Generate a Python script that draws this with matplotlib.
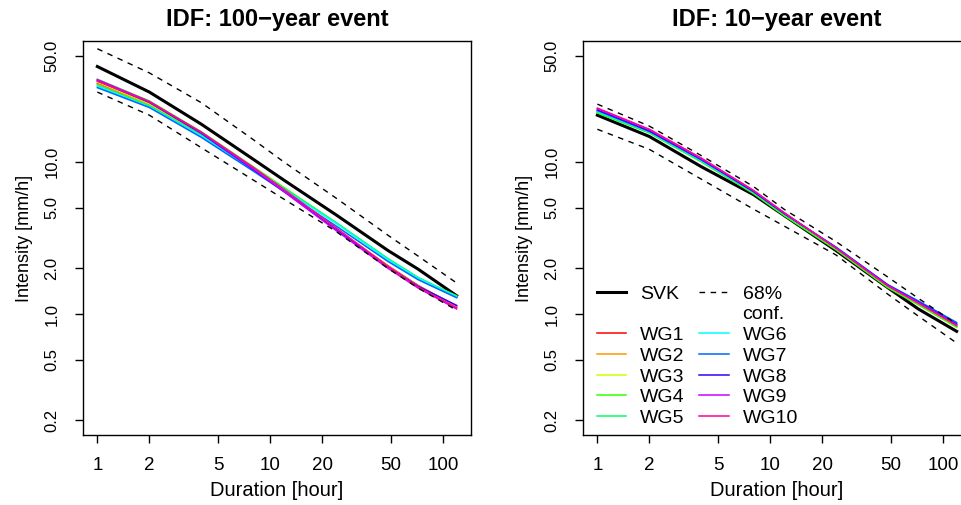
import matplotlib
matplotlib.use("Agg")
import matplotlib.pyplot as plt
from matplotlib.lines import Line2D

plt.rcParams['font.family'] = ['Liberation Sans', 'DejaVu Sans']

durations = [1, 2, 4, 8, 12, 24, 48, 72, 120]

# 100-year event
svk100 = [42.4, 28.8, 17.7, 10.4, 7.6, 4.5, 2.62, 1.97, 1.32]
up100 = [55.5, 38.5, 24.5, 14.0, 10.0, 5.8, 3.3, 2.4, 1.6]
lo100 = [28.8, 20.3, 12.4, 7.6, 5.7, 3.5, 2.0, 1.48, 1.06]
wg100 = {
    "WG1": [33.0, 24.0, 15.2, 9.1, 6.5, 3.65, 2.08, 1.54, 1.12],
    "WG2": [32.5, 23.8, 15.1, 9.0, 6.5, 3.65, 2.07, 1.53, 1.13],
    "WG3": [33.5, 24.2, 15.3, 9.0, 6.5, 3.62, 2.05, 1.51, 1.10],
    "WG4": [35.0, 25.2, 15.8, 9.3, 6.8, 4.0, 2.30, 1.72, 1.32],
    "WG5": [32.0, 23.4, 15.0, 9.0, 6.7, 4.0, 2.32, 1.74, 1.31],
    "WG6": [31.5, 23.0, 14.8, 8.9, 6.6, 3.95, 2.28, 1.72, 1.30],
    "WG7": [30.8, 22.8, 14.5, 8.7, 6.4, 3.8, 2.22, 1.68, 1.28],
    "WG8": [34.2, 24.6, 15.4, 8.9, 6.4, 3.6, 2.05, 1.52, 1.14],
    "WG9": [34.8, 25.0, 15.6, 9.0, 6.4, 3.55, 2.00, 1.48, 1.08],
    "WG10": [34.0, 24.8, 15.7, 9.2, 6.6, 3.7, 2.05, 1.50, 1.10],
}

# 10-year event
svk10 = [20.3, 14.7, 9.3, 6.1, 4.46, 2.62, 1.49, 1.08, 0.77]
up10 = [24.0, 17.2, 11.0, 6.9, 4.9, 3.0, 1.75, 1.27, 0.86]
lo10 = [16.4, 12.1, 7.7, 4.9, 3.8, 2.45, 1.35, 0.97, 0.645]
wg10 = {
    "WG1": [21.5, 15.8, 10.2, 6.3, 4.55, 2.70, 1.52, 1.17, 0.83],
    "WG2": [21.3, 15.7, 10.1, 6.3, 4.55, 2.70, 1.52, 1.17, 0.83],
    "WG3": [21.2, 15.6, 10.1, 6.25, 4.50, 2.68, 1.50, 1.16, 0.82],
    "WG4": [21.0, 15.5, 10.0, 6.2, 4.45, 2.65, 1.49, 1.15, 0.82],
    "WG5": [21.2, 15.6, 10.1, 6.3, 4.55, 2.72, 1.53, 1.19, 0.85],
    "WG6": [21.6, 15.8, 10.2, 6.35, 4.60, 2.75, 1.55, 1.21, 0.87],
    "WG7": [21.8, 15.9, 10.3, 6.4, 4.60, 2.76, 1.56, 1.22, 0.88],
    "WG8": [22.0, 16.0, 10.4, 6.4, 4.60, 2.74, 1.55, 1.20, 0.86],
    "WG9": [22.4, 16.3, 10.5, 6.5, 4.65, 2.73, 1.54, 1.19, 0.85],
    "WG10": [22.6, 16.4, 10.6, 6.5, 4.65, 2.72, 1.53, 1.18, 0.84],
}

wg_colors = ["#FF0000", "#FF9900", "#CCFF00", "#33FF00", "#00FF66",
             "#00FFFF", "#0066FF", "#3300FF", "#CC00FF", "#FF0099"]

xticks = [1, 2, 5, 10, 20, 50, 100]
xticklabels = ["1", "2", "5", "10", "20", "50", "100"]
yticks = [0.2, 0.5, 1.0, 2.0, 5.0, 10.0, 50.0]
yticklabels = ["0.2", "0.5", "1.0", "2.0", "5.0", "10.0", "50.0"]
titles = ["IDF: 100\u2212year event", "IDF: 10\u2212year event"]

W, H = 962, 505
fig = plt.figure(figsize=(W / 100, H / 100), dpi=100)
axL = fig.add_axes([83 / W, 1 - 435 / H, 388 / W, 394 / H])
axR = fig.add_axes([583 / W, 1 - 435 / H, 388 / W, 394 / H])

dash = (0, (4, 4))
for ax, svk, up, lo, wg, title in [(axL, svk100, up100, lo100, wg100, titles[0]),
                                    (axR, svk10, up10, lo10, wg10, titles[1])]:
    ax.plot(durations, svk, color="black", lw=2.2, solid_joinstyle="round")
    for (name, vals), c in zip(wg.items(), wg_colors):
        ax.plot(durations, vals, color=c, lw=1.1)
    ax.plot(durations, up, color="black", lw=1.0, linestyle=dash)
    ax.plot(durations, lo, color="black", lw=1.0, linestyle=dash)
    ax.set_xscale("log")
    ax.set_yscale("log")
    ax.set_xlim(0.826, 145.3)
    ax.set_ylim(0.1603, 62.4)
    ax.set_xticks(xticks)
    ax.set_xticklabels(xticklabels)
    ax.set_yticks(yticks)
    ax.set_yticklabels(yticklabels, rotation=90, va="center")
    ax.minorticks_off()
    ax.tick_params(axis="x", direction="out", length=6, width=1, pad=10, labelsize=13.5)
    ax.tick_params(axis="y", direction="out", length=6, width=1, pad=11, labelsize=12)
    for s in ax.spines.values():
        s.set_linewidth(1.0)
        s.set_color("black")
    ax.set_xlabel("Duration [hour]", fontsize=14.5, labelpad=5)
    ax.set_ylabel("Intensity [mm/h]", fontsize=13, labelpad=8)
    ax.set_title(title, fontsize=17, fontweight="bold", pad=11)

# legend (two columns, rows aligned)
blank = Line2D([], [], linestyle="none")
h_svk = Line2D([], [], color="black", lw=2.2)
h_conf = Line2D([], [], color="black", lw=1.0, linestyle=dash)
names = list(wg10.keys())
h_wg = [Line2D([], [], color=c, lw=1.1) for c in wg_colors]
handles = [h_svk, blank] + h_wg[:5] + [h_conf, blank] + h_wg[5:]
labels = ["SVK", " "] + names[:5] + ["68%", "conf."] + names[5:]
axR.legend(handles, labels, ncol=2, loc="upper left",
           bbox_to_anchor=((597 - 583) / 388, (435 - 285) / 394),
           frameon=False, fontsize=14, borderpad=0, borderaxespad=0,
           handlelength=1.5, handletextpad=0.72, columnspacing=0.75,
           labelspacing=0.16)

fig.savefig("out.png", dpi=100)
